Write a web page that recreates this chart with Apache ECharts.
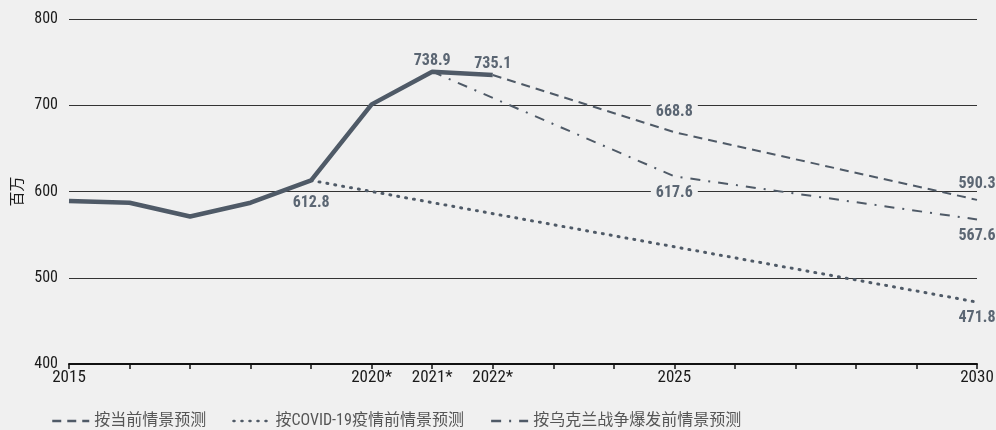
<!DOCTYPE html>
<html>
<head>
<meta charset="utf-8">
<script src="https://cdn.jsdelivr.net/npm/echarts@6/dist/echarts.min.js"></script>
<style>
  html, body { margin: 0; padding: 0; background: #f0f0f0; }
  #chart { width: 996px; height: 430px; }
</style>
</head>
<body>
<div id="chart"></div>
<script>
const years = ['2015', '2016', '2017', '2018', '2019', '2020', '2021', '2022',
  '2023', '2024', '2025', '2026', '2027', '2028', '2029', '2030']
const tickLabels = { '2015': '2015', '2020': '2020*', '2021': '2021*', '2022': '2022*', '2025': '2025', '2030': '2030' }

const actual = [589, 587, 571, 587, 612.8, 701, 738.9, 735.1, null, null, null, null, null, null, null, null]
const currentScenario = [null, null, null, null, null, null, null, 735.1, null, null, 668.8, null, null, null, null, 590.3]
const preCovidScenario = [null, null, null, null, 612.8, null, null, null, null, null, null, null, null, null, null, 471.8]
const preWarScenario = [null, null, null, null, null, null, 738.9, null, null, null, 617.6, null, null, null, null, 567.6]

const seriesNames = ['按当前情景预测', '按COVID-19疫情前情景预测', '按乌克兰战争爆发前情景预测']

const BG = '#f0f0f0'
const LINE = '#4f5a67'
const LABEL = '#5b6673'
const NUM_FONT = '"Roboto Condensed", "Noto Sans CJK SC", sans-serif'

// attach labels to chosen points: {index: [position, distance, withBg]}
function withLabels(values, spec) {
  return values.map((v, i) => {
    const s = spec[i]
    if (!s || v == null) return v
    return {
      value: v,
      symbol: 'circle',
      symbolSize: 0,
      label: {
        show: true,
        position: s[0],
        distance: s[1],
        color: LABEL,
        fontFamily: NUM_FONT,
        fontWeight: 'bold',
        fontSize: 16,
        backgroundColor: s[2] ? BG : 'transparent',
        padding: s[2] ? [0, 5] : 0,
        formatter: v.toFixed(1)
      }
    }
  })
}

const chart = echarts.init(document.getElementById('chart'))

chart.setOption({
  backgroundColor: BG,
  animation: false,
  grid: { left: 69, right: 19, top: 19, bottom: 66, containLabel: false, outerBoundsMode: 'none' },
  legend: {
    data: seriesNames,
    left: 46,
    top: 408,
    itemWidth: 37,
    itemHeight: 14,
    itemGap: 26,
    textStyle: { color: '#555', fontSize: 16, fontFamily: NUM_FONT },
    itemStyle: { opacity: 0 },
    lineStyle: { width: 2.5 }
  },
  xAxis: {
    type: 'category',
    data: years,
    boundaryGap: false,
    axisLine: { lineStyle: { color: '#111', width: 2 } },
    axisTick: { show: true, interval: 0, length: 5, lineStyle: { color: '#111', width: 1.5 } },
    axisLabel: {
      interval: 0,
      margin: 5,
      color: '#1a1a1a',
      fontSize: 17,
      fontFamily: NUM_FONT,
      formatter: v => tickLabels[v] || ''
    },
    splitLine: { show: false }
  },
  yAxis: {
    type: 'value',
    min: 400,
    max: 800,
    interval: 100,
    name: '百万',
    nameLocation: 'middle',
    nameGap: 44,
    nameRotate: 90,
    nameTextStyle: { color: '#1a1a1a', fontSize: 15, fontFamily: '"Noto Sans CJK SC", sans-serif' },
    axisLine: { show: false },
    axisTick: { show: false },
    axisLabel: { color: '#1a1a1a', fontSize: 16, margin: 11, fontFamily: NUM_FONT },
    splitLine: { lineStyle: { color: '#333', width: 1 } }
  },
  series: [
    {
      name: seriesNames[0],
      type: 'line',
      symbol: 'none',
      connectNulls: true,
      z: 3,
      lineStyle: { color: LINE, width: 2, type: [9, 6] },
      itemStyle: { color: LINE },
      data: withLabels(currentScenario, { 10: ['top', 12, true], 15: ['top', 8] })
    },
    {
      name: seriesNames[1],
      type: 'line',
      symbol: 'none',
      connectNulls: true,
      z: 3,
      lineStyle: { color: LINE, width: 3, type: [1, 7], cap: 'round' },
      itemStyle: { color: LINE },
      data: withLabels(preCovidScenario, { 15: ['bottom', 8] })
    },
    {
      name: seriesNames[2],
      type: 'line',
      symbol: 'none',
      connectNulls: true,
      z: 3,
      lineStyle: { color: LINE, width: 2, type: [10, 8, 2, 8] },
      itemStyle: { color: LINE },
      data: withLabels(preWarScenario, { 10: ['bottom', 9, true], 15: ['bottom', 9] })
    },
    {
      name: '实际',
      type: 'line',
      symbol: 'none',
      z: 4,
      lineStyle: { color: LINE, width: 4.5 },
      itemStyle: { color: LINE },
      data: withLabels(actual, { 4: ['bottom', 15], 6: ['top', 3], 7: ['top', 3] })
    }
  ]
})

window.addEventListener('resize', chart.resize)
</script>
</body>
</html>
